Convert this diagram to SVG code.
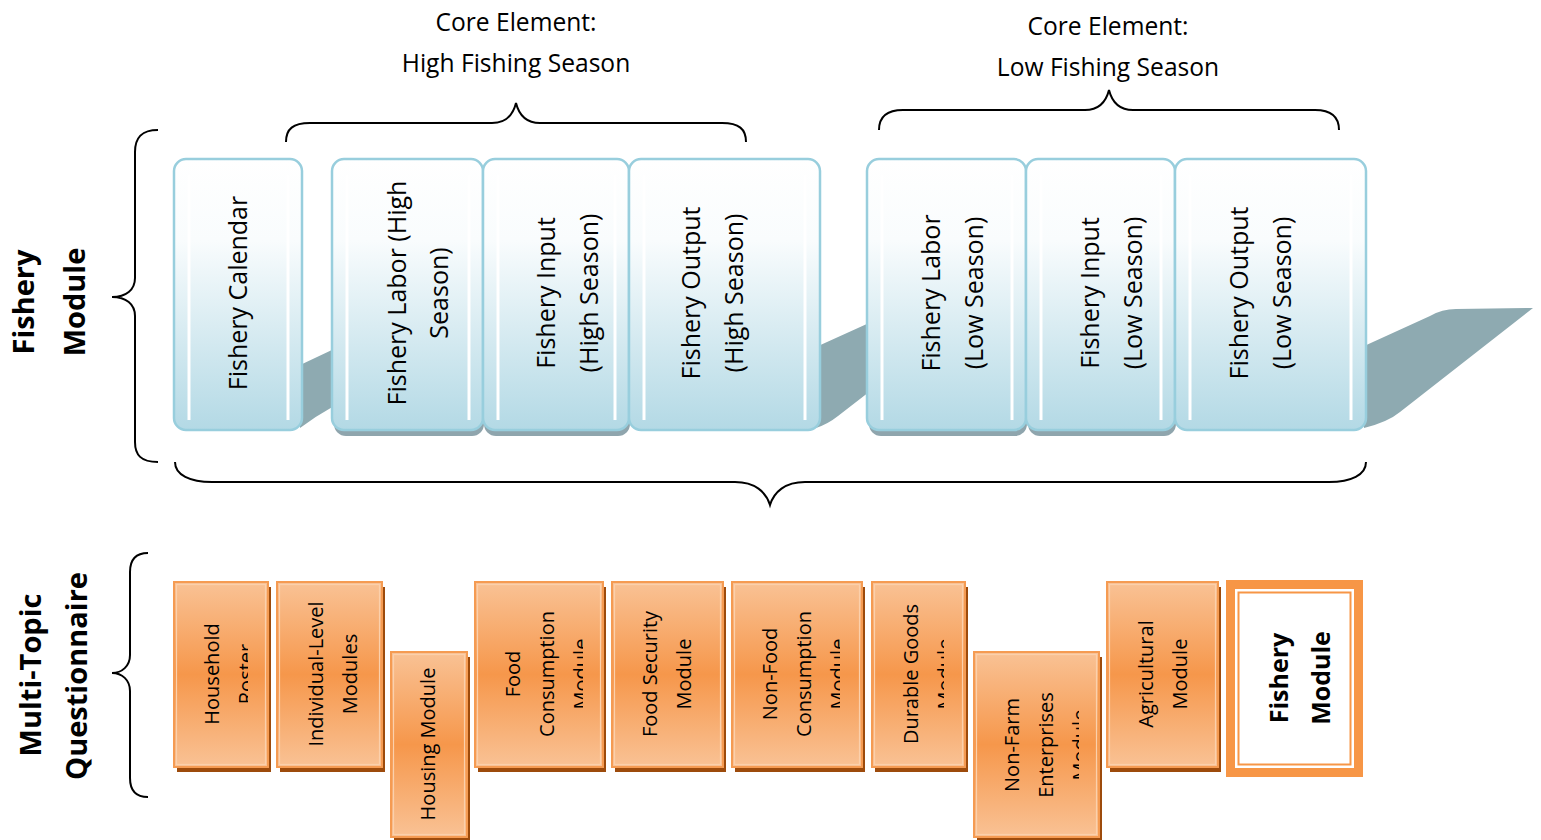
<svg xmlns="http://www.w3.org/2000/svg" width="1541" height="840" viewBox="0 0 1541 840">
<style>
text{font-family:"Open Sans","Liberation Sans",sans-serif;fill:#000}
.hd{font-size:24.6px;text-anchor:middle}
.lb{font-size:29px;font-weight:bold;text-anchor:middle}
.bt{font-size:25px;text-anchor:middle}
.ot{font-size:20px;text-anchor:middle}
.ft{font-size:25px;font-weight:bold;text-anchor:middle}
.brace{fill:none;stroke:#000;stroke-width:2}
.bbox{fill:url(#bg);stroke:#98cedd;stroke-width:2.5}
.wl{stroke:#fff;stroke-width:3}
.bsh{fill:#8fa5ad}
.rib{fill:#8eaab1}
.obox{fill:url(#og);stroke:#f59b52;stroke-width:2}
.oin{fill:none;stroke:#fbd0ac;stroke-width:1.2}
.osh{fill:#9d4b0c}
</style>
<defs>
<linearGradient id="bg" x1="0" y1="0" x2="0" y2="1">
<stop offset="0" stop-color="#ffffff"/>
<stop offset="0.3" stop-color="#f9fcfd"/>
<stop offset="1" stop-color="#b3d9e5"/>
</linearGradient>
<linearGradient id="og" x1="0" y1="0" x2="0" y2="1">
<stop offset="0" stop-color="#f9c295"/>
<stop offset="0.5" stop-color="#f6974b"/>
<stop offset="1" stop-color="#f9c295"/>
</linearGradient>
<clipPath id="c1"><rect x="174" y="580" width="74" height="190"/></clipPath>
<clipPath id="c4"><rect x="475" y="580" width="108" height="190"/></clipPath>
<clipPath id="c6"><rect x="732" y="580" width="108" height="190"/></clipPath>
<clipPath id="c7"><rect x="872" y="580" width="72" height="190"/></clipPath>
<clipPath id="c8"><rect x="974" y="650" width="105" height="190"/></clipPath>
</defs>
<rect width="1541" height="840" fill="#fff"/>

<g id="connectors">
<path class="brace" d="M286,142 C286,129 293,123 310,123 L492,123 C506,123 513,115 516,103 C519,115 526,123 540,123 L722,123 C739,123 746,129 746,142"/>
<path class="brace" d="M879,130 C879,117 886,110 903,110 L1085,110 C1099,110 1106,102 1109,90 C1112,102 1119,110 1133,110 L1315,110 C1332,110 1339,117 1339,130"/>
<path class="brace" d="M175,462 C175,475 190,482 212,482 L735,482 C755,482 766,492 770,505 C774,492 785,482 805,482 L1329,482 C1351,482 1366,475 1366,462"/>
<path class="brace" d="M158,130 C141,130 135,138 135,152 L135,278 C135,290 126,297 112,297 C126,297 135,304 135,316 L135,442 C135,455 141,462 158,462"/>
<path class="brace" d="M148,553 C135,553 130,560 130,572 L130,655 C130,666 122,673 112,673 C122,673 130,680 130,691 L130,778 C130,790 135,797 148,797"/>
</g>

<g id="headers">
<text class="hd" x="516" y="31">Core Element:</text>
<text class="hd" x="516" y="72">High Fishing Season</text>
<text class="hd" x="1108" y="35">Core Element:</text>
<text class="hd" x="1108" y="76">Low Fishing Season</text>
</g>

<g id="label-fishery">
<text class="lb" transform="translate(34,302) rotate(-90)">Fishery</text>
<text class="lb" transform="translate(85,302) rotate(-90)">Module</text>
</g>
<g id="label-multitopic">
<text class="lb" transform="translate(41,675) rotate(-90)">Multi-Topic</text>
<text class="lb" transform="translate(87,676) rotate(-90)">Questionnaire</text>
</g>

<g id="ribbon">
<path class="rib" d="M298,366 L334,349 L334,406 Q316,416 300,428 Z"/>
<path class="rib" d="M816,347 L869,323 L869,392 L838,416 Q828,424 816,428 Z"/>
<path class="rib" d="M1362,347 L1430,316 Q1442,309 1456,309 L1533,308 L1400,412 Q1388,422 1364,428 Z"/>
<rect class="bsh" x="334" y="166" width="150" height="270" rx="12"/>
<rect class="bsh" x="484" y="166" width="146" height="270" rx="12"/>
<rect class="bsh" x="869" y="166" width="158" height="270" rx="12"/>
<rect class="bsh" x="1028" y="166" width="148" height="270" rx="12"/>
</g>

<g id="fishery-calendar">
<rect class="bbox" x="174" y="159" width="128" height="271" rx="12"/>
<line class="wl" x1="189" y1="175" x2="189" y2="420"/><line class="wl" x1="288" y1="175" x2="288" y2="420"/>
<text class="bt" transform="translate(247,293) rotate(-90)">Fishery Calendar</text>
</g>
<g id="labor-high">
<rect class="bbox" x="332" y="159" width="151" height="271" rx="12"/>
<line class="wl" x1="347" y1="175" x2="347" y2="420"/><line class="wl" x1="469" y1="175" x2="469" y2="420"/>
<text class="bt" transform="translate(406,293) rotate(-90)">Fishery Labor (High</text>
<text class="bt" transform="translate(448,293) rotate(-90)">Season)</text>
</g>
<g id="input-high">
<rect class="bbox" x="483" y="159" width="146" height="271" rx="12"/>
<line class="wl" x1="498" y1="175" x2="498" y2="420"/><line class="wl" x1="615" y1="175" x2="615" y2="420"/>
<text class="bt" transform="translate(555,293) rotate(-90)">Fishery Input</text>
<text class="bt" transform="translate(598,293) rotate(-90)">(High Season)</text>
</g>
<g id="output-high">
<rect class="bbox" x="629" y="159" width="191" height="271" rx="12"/>
<line class="wl" x1="644" y1="175" x2="644" y2="420"/><line class="wl" x1="805" y1="175" x2="805" y2="420"/>
<text class="bt" transform="translate(700,293) rotate(-90)">Fishery Output</text>
<text class="bt" transform="translate(743,293) rotate(-90)">(High Season)</text>
</g>
<g id="labor-low">
<rect class="bbox" x="867" y="159" width="159" height="271" rx="12"/>
<line class="wl" x1="882" y1="175" x2="882" y2="420"/><line class="wl" x1="1012" y1="175" x2="1012" y2="420"/>
<text class="bt" transform="translate(940,293) rotate(-90)">Fishery Labor</text>
<text class="bt" transform="translate(983,293) rotate(-90)">(Low Season)</text>
</g>
<g id="input-low">
<rect class="bbox" x="1026" y="159" width="149" height="271" rx="12"/>
<line class="wl" x1="1041" y1="175" x2="1041" y2="420"/><line class="wl" x1="1161" y1="175" x2="1161" y2="420"/>
<text class="bt" transform="translate(1099,293) rotate(-90)">Fishery Input</text>
<text class="bt" transform="translate(1142,293) rotate(-90)">(Low Season)</text>
</g>
<g id="output-low">
<rect class="bbox" x="1175" y="159" width="191" height="271" rx="12"/>
<line class="wl" x1="1190" y1="175" x2="1190" y2="420"/><line class="wl" x1="1351" y1="175" x2="1351" y2="420"/>
<text class="bt" transform="translate(1248,293) rotate(-90)">Fishery Output</text>
<text class="bt" transform="translate(1291,293) rotate(-90)">(Low Season)</text>
</g>

<g id="household-roster">
<rect class="osh" x="177" y="587" width="94" height="185"/>
<rect class="obox" x="174" y="582" width="94" height="185"/>
<rect class="oin" x="176.5" y="584.5" width="89" height="180"/>
<g clip-path="url(#c1)">
<text class="ot" transform="translate(219,674) rotate(-90)">Household</text>
<text class="ot" transform="translate(253,674) rotate(-90)">Roster</text>
</g>
</g>
<g id="individual-level">
<rect class="osh" x="280" y="587" width="105" height="185"/>
<rect class="obox" x="277" y="582" width="105" height="185"/>
<rect class="oin" x="279.5" y="584.5" width="100" height="180"/>
<text class="ot" transform="translate(323,674) rotate(-90)">Individual-Level</text>
<text class="ot" transform="translate(357,674) rotate(-90)">Modules</text>
</g>
<g id="housing">
<rect class="osh" x="394" y="657" width="76" height="185"/>
<rect class="obox" x="391" y="652" width="76" height="185"/>
<rect class="oin" x="393.5" y="654.5" width="71" height="180"/>
<text class="ot" transform="translate(435,744) rotate(-90)">Housing Module</text>
</g>
<g id="food-consumption">
<rect class="osh" x="478" y="587" width="128" height="185"/>
<rect class="obox" x="475" y="582" width="128" height="185"/>
<rect class="oin" x="477.5" y="584.5" width="123" height="180"/>
<g clip-path="url(#c4)">
<text class="ot" transform="translate(520,674) rotate(-90)">Food</text>
<text class="ot" transform="translate(554,674) rotate(-90)">Consumption</text>
<text class="ot" transform="translate(588,674) rotate(-90)">Module</text>
</g>
</g>
<g id="food-security">
<rect class="osh" x="615" y="587" width="111" height="185"/>
<rect class="obox" x="612" y="582" width="111" height="185"/>
<rect class="oin" x="614.5" y="584.5" width="106" height="180"/>
<text class="ot" transform="translate(657,674) rotate(-90)">Food Security</text>
<text class="ot" transform="translate(691,674) rotate(-90)">Module</text>
</g>
<g id="non-food">
<rect class="osh" x="735" y="587" width="130" height="185"/>
<rect class="obox" x="732" y="582" width="130" height="185"/>
<rect class="oin" x="734.5" y="584.5" width="125" height="180"/>
<g clip-path="url(#c6)">
<text class="ot" transform="translate(777,674) rotate(-90)">Non-Food</text>
<text class="ot" transform="translate(811,674) rotate(-90)">Consumption</text>
<text class="ot" transform="translate(845,674) rotate(-90)">Module</text>
</g>
</g>
<g id="durable-goods">
<rect class="osh" x="875" y="587" width="93" height="185"/>
<rect class="obox" x="872" y="582" width="93" height="185"/>
<rect class="oin" x="874.5" y="584.5" width="88" height="180"/>
<g clip-path="url(#c7)">
<text class="ot" transform="translate(918,674) rotate(-90)">Durable Goods</text>
<text class="ot" transform="translate(952,674) rotate(-90)">Module</text>
</g>
</g>
<g id="non-farm">
<rect class="osh" x="977" y="657" width="125" height="185"/>
<rect class="obox" x="974" y="652" width="125" height="185"/>
<rect class="oin" x="976.5" y="654.5" width="120" height="180"/>
<g clip-path="url(#c8)">
<text class="ot" transform="translate(1019,745) rotate(-90)">Non-Farm</text>
<text class="ot" transform="translate(1053,745) rotate(-90)">Enterprises</text>
<text class="ot" transform="translate(1087,745) rotate(-90)">Module</text>
</g>
</g>
<g id="agricultural">
<rect class="osh" x="1110" y="587" width="111" height="185"/>
<rect class="obox" x="1107" y="582" width="111" height="185"/>
<rect class="oin" x="1109.5" y="584.5" width="106" height="180"/>
<text class="ot" transform="translate(1153,674) rotate(-90)">Agricultural</text>
<text class="ot" transform="translate(1187,674) rotate(-90)">Module</text>
</g>
<g id="fishery-module">
<rect x="1226" y="580" width="137" height="197" fill="#f79646"/>
<rect x="1235" y="589" width="119" height="179" fill="#fff"/>
<rect x="1238.5" y="592.5" width="112" height="172" fill="#fff" stroke="#f79646" stroke-width="2"/>
<text class="ft" transform="translate(1288,678) rotate(-90)">Fishery</text>
<text class="ft" transform="translate(1330,678) rotate(-90)">Module</text>
</g>
</svg>
